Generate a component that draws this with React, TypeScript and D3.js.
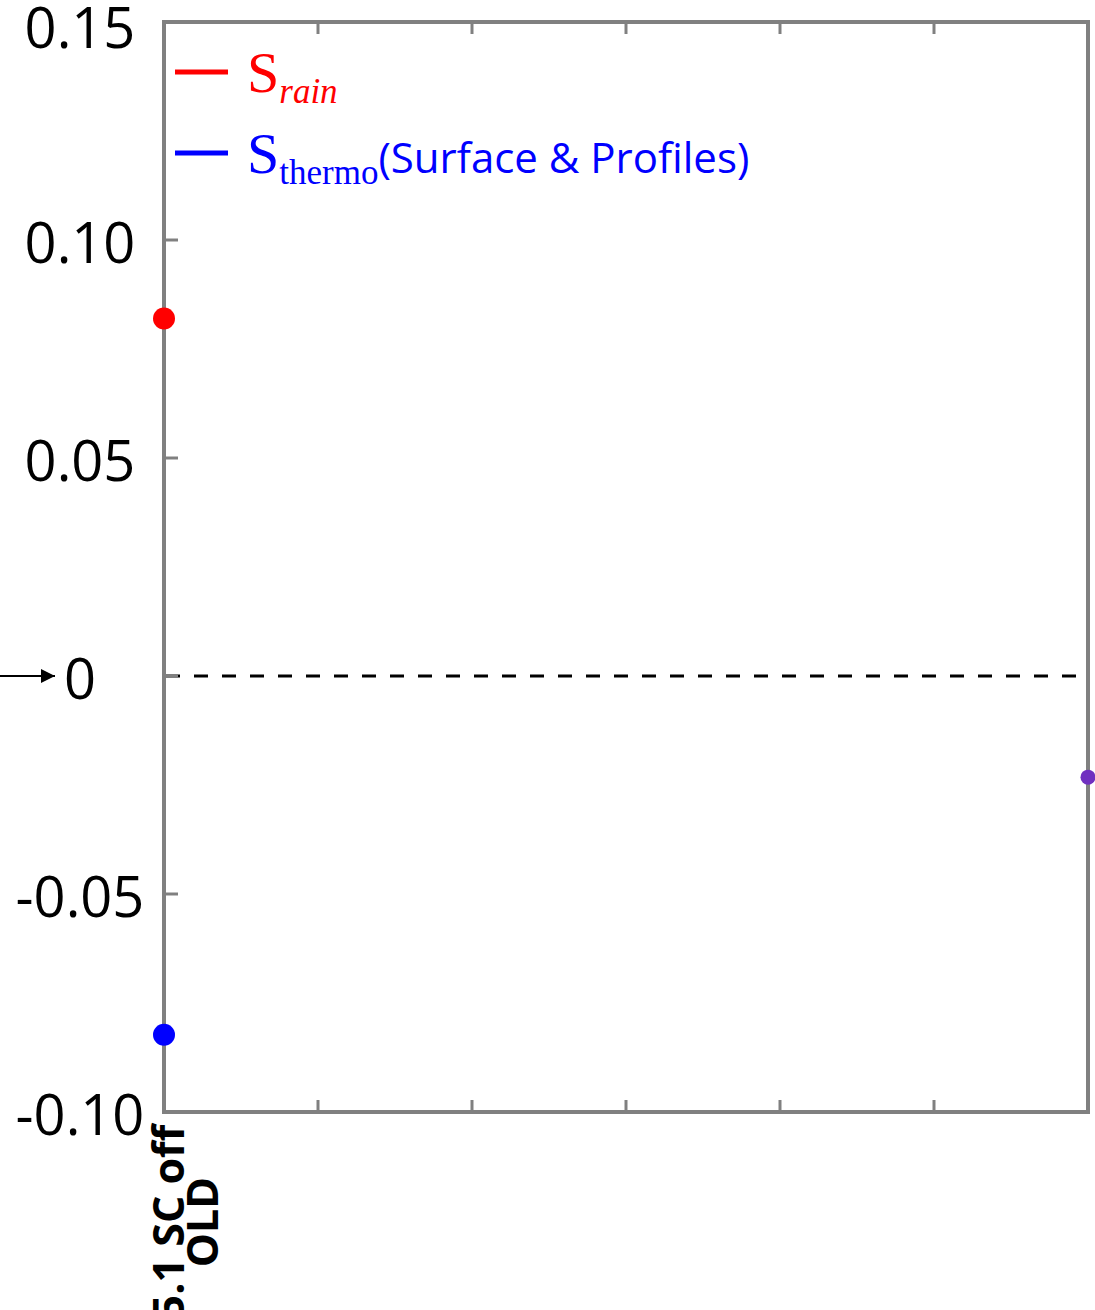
import React, { useEffect, useRef } from 'react';
import * as d3 from 'd3';

const yTicks = [-0.1, -0.05, 0, 0.05, 0.1, 0.15];
const yTickLabels = ['-0.10', '-0.05', '0', '0.05', '0.10', '0.15'];
const xTicks = [1, 2, 3, 4, 5, 6, 7];
const xLabelLines = ['5.1 SC off', 'OLD'];

const points = [
  { name: 'rain', x: 1, value: 0.082, color: '#ff0000', r: 11 },
  { name: 'thermo', x: 1, value: -0.0823, color: '#0000ff', r: 11 },
  { name: 'other', x: 7, value: -0.0232, color: '#7030c0', r: 7.5 },
];

const App = () => {
  const ref = useRef(null);

  useEffect(() => {
    if (!ref.current) return;
    const svg = d3.select(ref.current);
    svg.selectAll('*').remove();

    const left = 164, right = 1088, top = 22, bottom = 1112;
    const x = d3.scaleLinear().domain([1, 7]).range([left, right]);
    const y = d3.scaleLinear().domain([-0.1, 0.15]).range([bottom, top]);
    const frame = '#808080';

    svg.append('defs').append('marker')
      .attr('id', 'arrow')
      .attr('viewBox', '0 -5 10 10')
      .attr('refX', 10)
      .attr('refY', 0)
      .attr('orient', 'auto')
      .attr('markerUnits', 'userSpaceOnUse')
      .attr('markerWidth', 16)
      .attr('markerHeight', 14)
      .append('path')
      .attr('d', 'M0,-5L10,0L0,5Z')
      .attr('fill', '#000');

    // zero line
    svg.append('line')
      .attr('x1', left + 2).attr('x2', right - 6)
      .attr('y1', y(0)).attr('y2', y(0))
      .attr('stroke', '#000')
      .attr('stroke-width', 3)
      .attr('stroke-dasharray', '14,14');

    // ticks, inward on top, bottom and left
    const tg = svg.append('g').attr('stroke', frame).attr('stroke-width', 3);
    xTicks.slice(1, -1).forEach(t => {
      tg.append('line').attr('x1', x(t)).attr('x2', x(t)).attr('y1', top).attr('y2', top + 12);
      tg.append('line').attr('x1', x(t)).attr('x2', x(t)).attr('y1', bottom).attr('y2', bottom - 12);
    });
    yTicks.slice(1, -1).forEach(t => {
      tg.append('line').attr('x1', left).attr('x2', left + 14).attr('y1', y(t)).attr('y2', y(t));
    });

    // frame
    svg.append('rect')
      .attr('x', left).attr('y', top)
      .attr('width', right - left).attr('height', bottom - top)
      .attr('fill', 'none')
      .attr('stroke', frame)
      .attr('stroke-width', 4);

    // y labels
    svg.append('g').selectAll('text')
      .data(yTicks)
      .enter().append('text')
      .attr('x', 80)
      .attr('y', d => Math.max(y(d) + 23, 48))
      .attr('text-anchor', 'middle')
      .attr('font-family', 'Open Sans, sans-serif')
      .attr('font-size', 56)
      .attr('fill', '#000')
      .text((d, i) => yTickLabels[i]);

    // arrow pointing at zero
    svg.append('line')
      .attr('x1', 0).attr('x2', 55)
      .attr('y1', y(0)).attr('y2', y(0))
      .attr('stroke', '#000')
      .attr('stroke-width', 2)
      .attr('marker-end', 'url(#arrow)');

    // x label (rotated)
    const xl = svg.append('text')
      .attr('transform', `translate(${x(1)},1222) rotate(-90)`)
      .attr('text-anchor', 'middle')
      .attr('font-family', 'Open Sans, sans-serif')
      .attr('font-weight', 'bold')
      .attr('font-size', 43)
      .attr('fill', '#000');
    xLabelLines.forEach((l, i) => {
      xl.append('tspan').attr('x', 0).attr('y', 20 + i * 34).text(l);
    });

    // points
    svg.append('g').selectAll('circle')
      .data(points)
      .enter().append('circle')
      .attr('cx', d => x(d.x))
      .attr('cy', d => y(d.value))
      .attr('r', d => d.r)
      .attr('fill', d => d.color);

    // legend
    const lg = svg.append('g');
    const rows = [
      { color: '#ff0000', sub: 'rain', italic: true, extra: '', yy: 72 },
      { color: '#0000ff', sub: 'thermo', italic: false, extra: '(Surface & Profiles)', yy: 153 },
    ];
    rows.forEach(r => {
      lg.append('line')
        .attr('x1', 175).attr('x2', 228)
        .attr('y1', r.yy).attr('y2', r.yy)
        .attr('stroke', r.color).attr('stroke-width', 5);
      const t = lg.append('text')
        .attr('x', 247)
        .attr('y', r.yy + 20)
        .attr('fill', r.color);
      t.append('tspan')
        .attr('font-family', "'Liberation Serif', 'Times New Roman', serif")
        .attr('font-size', 58)
        .text('S');
      t.append('tspan')
        .attr('font-family', "'Liberation Serif', 'Times New Roman', serif")
        .attr('font-style', r.italic ? 'italic' : 'normal')
        .attr('font-size', 35)
        .attr('dy', 11)
        .text(r.sub);
      if (r.extra) {
        t.append('tspan')
          .attr('font-family', 'Open Sans, sans-serif')
          .attr('font-size', 42)
          .attr('dy', -11)
          .text(r.extra);
      }
    });
  }, []);

  return (
    <svg
      ref={ref}
      width={1095}
      height={1310}
      style={{ position: 'absolute', left: 0, top: 0, background: '#fff' }}
    />
  );
};

export default App;
